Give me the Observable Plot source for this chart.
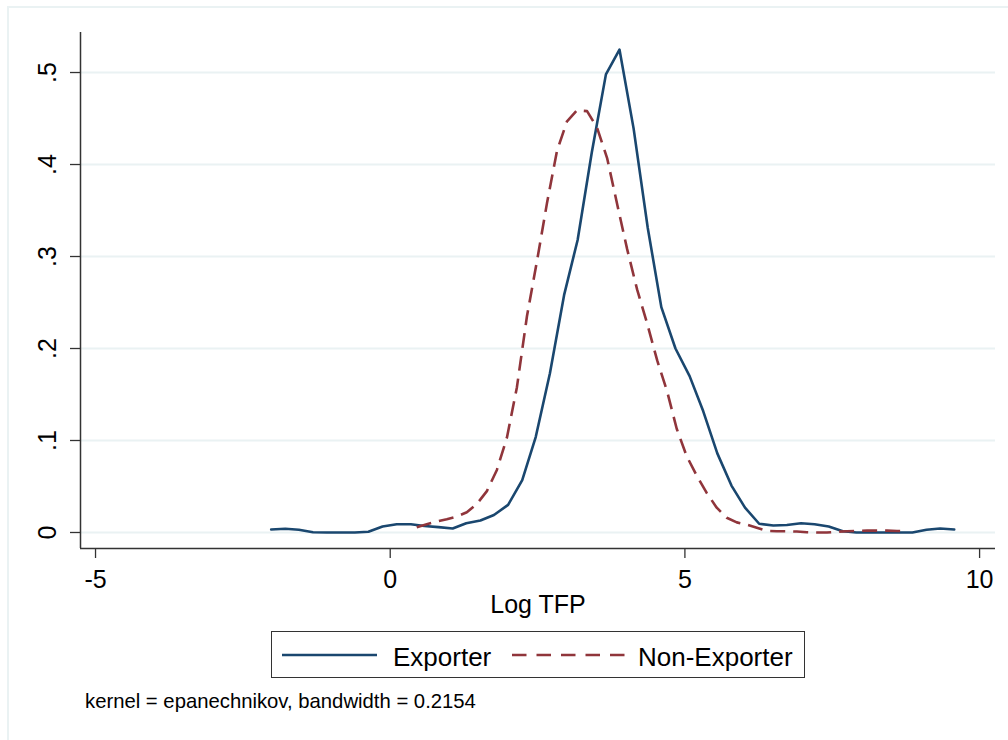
<!DOCTYPE html>
<html>
<head>
<meta charset="utf-8">
<script src="https://cdn.jsdelivr.net/npm/d3@7"></script>
<script src="https://cdn.jsdelivr.net/npm/@observablehq/plot@0.6"></script>
<style>
  body { margin: 0; background: #fff; font-family: "Liberation Sans", Arial, sans-serif; }
  #wrap { position: relative; width: 1008px; height: 740px; overflow: hidden; background: #fff; }
  #frame { position: absolute; left: 7px; top: 6px; width: 1020px; height: 760px;
           border-top: 2px solid #eaf2f3; border-left: 2px solid #eaf2f3; }
  #chart { position: absolute; left: 0; top: 0; }
  #legend { position: absolute; left: 271px; top: 631px; width: 532px; height: 45px;
            border: 1px solid #333; box-sizing: content-box; }
  .lg-text { position: absolute; font-size: 26px; line-height: 26px; color: #000; white-space: nowrap; }
  #caption { position: absolute; left: 85px; top: 691px; font-size: 20.3px; line-height: 20px; color: #000; white-space: nowrap; }
  svg.sample { position: absolute; overflow: visible; }
</style>
</head>
<body>
<div id="wrap">
  <div id="frame"></div>
  <div id="chart"></div>
  <div id="legend"></div>
  <div id="caption"></div>
</div>
<script>
// ---- Data ----
const exporterX = [-2.02, -1.78, -1.55, -1.31, -1.07, -0.84, -0.60, -0.37, -0.13, 0.11,
                   0.35, 0.58, 0.82, 1.06, 1.29, 1.53, 1.76, 2.00, 2.24, 2.47,
                   2.71, 2.95, 3.18, 3.42, 3.66, 3.89, 4.13, 4.37, 4.60, 4.84,
                   5.08, 5.31, 5.55, 5.79, 6.02, 6.26, 6.50, 6.73, 6.97, 7.20,
                   7.44, 7.68, 7.91, 8.15, 8.39, 8.62, 8.86, 9.10, 9.33, 9.57];
const exporterY = [0.0033, 0.0040, 0.0030, 0.0003, 0.0000, 0.0000, 0.0000, 0.0008, 0.0065, 0.0090,
                   0.0090, 0.0070, 0.0058, 0.0043, 0.0100, 0.0130, 0.0190, 0.0300, 0.0570, 0.1040,
                   0.1730, 0.2580, 0.3180, 0.4130, 0.4980, 0.5250, 0.4390, 0.3310, 0.2450, 0.2000,
                   0.1700, 0.1320, 0.0860, 0.0510, 0.0270, 0.0095, 0.0076, 0.0082, 0.0101, 0.0090,
                   0.0065, 0.0014, 0.0000, 0.0000, 0.0000, 0.0000, 0.0000, 0.0030, 0.0043, 0.0033];

const nonExporterX = [0.45, 0.62, 0.79, 0.96, 1.13, 1.30, 1.47, 1.64, 1.81, 1.98,
                      2.15, 2.32, 2.49, 2.66, 2.83, 3.00, 3.17, 3.34, 3.51, 3.68,
                      3.85, 4.02, 4.19, 4.36, 4.53, 4.70, 4.86, 5.03, 5.20, 5.37,
                      5.54, 5.71, 5.88, 6.05, 6.22, 6.39, 6.56, 6.73, 6.90, 7.07,
                      7.24, 7.41, 7.58, 7.75, 7.92, 8.09, 8.26, 8.43, 8.60, 8.77];
const nonExporterY = [0.0058, 0.0090, 0.0120, 0.0145, 0.0174, 0.0220, 0.0310, 0.0450, 0.0680, 0.1030,
                      0.1580, 0.2350, 0.2950, 0.3580, 0.4150, 0.4470, 0.4590, 0.4580, 0.4400, 0.4070,
                      0.3570, 0.3080, 0.2640, 0.2270, 0.1870, 0.1530, 0.1130, 0.0830, 0.0620, 0.0430,
                      0.0270, 0.0160, 0.0110, 0.0085, 0.0052, 0.0018, 0.0014, 0.0014, 0.0010, 0.0003,
                      0.0000, 0.0000, 0.0008, 0.0014, 0.0018, 0.0020, 0.0020, 0.0020, 0.0017, 0.0014];

const xTicks = [-5, 0, 5, 10];
const xTickLabels = ["-5", "0", "5", "10"];
const yTicks = [0, 0.1, 0.2, 0.3, 0.4, 0.5];
const yTickLabels = ["0", ".1", ".2", ".3", ".4", ".5"];
const xTitle = "Log TFP";
const seriesNames = ["Exporter", "Non-Exporter"];
const captionText = "kernel = epanechnikov, bandwidth = 0.2154";

// ---- Styles ----
const navy = "#1a476f";
const maroon = "#90353b";
const gridColor = "#eaf2f3";
const axisColor = "#333333";
const font = "'Liberation Sans', Arial, sans-serif";
const xDomain = [-5.255, 10.27];
const yDomain = [-0.0174, 0.5435];

const exporter = exporterX.map((x, i) => ({x, y: exporterY[i]}));
const nonExporter = nonExporterX.map((x, i) => ({x, y: nonExporterY[i]}));
const xLab = new Map(xTicks.map((t, i) => [t, xTickLabels[i]]));
const yLab = new Map(yTicks.map((t, i) => [t, yTickLabels[i]]));

const chart = Plot.plot({
  width: 1008,
  height: 620,
  marginLeft: 80,
  marginRight: 13,
  marginTop: 32,
  marginBottom: 72,
  style: {fontFamily: font, fontSize: "25px", color: "#000", background: "transparent", overflow: "visible"},
  x: {domain: xDomain},
  y: {domain: yDomain},
  marks: [
    Plot.gridY(yTicks, {stroke: gridColor, strokeOpacity: 1, strokeWidth: 2}),
    Plot.ruleX([xDomain[0]], {stroke: axisColor, strokeWidth: 1.5}),
    Plot.ruleY([yDomain[0]], {stroke: axisColor, strokeWidth: 1.5}),
    Plot.axisX(xTicks, {tickFormat: d => xLab.get(d), tickSize: 10, tickPadding: 12,
                        stroke: axisColor, strokeWidth: 1.3, fontSize: 25, label: null}),
    Plot.axisY(yTicks, {tickFormat: d => yLab.get(d), tickSize: 10, tickPadding: 15, tickRotate: -90,
                        stroke: axisColor, strokeWidth: 1.3, fontSize: 25, label: null}),
    Plot.text([xTitle], {frameAnchor: "bottom", text: d => d, lineAnchor: "bottom", dy: 64, fontSize: 25, fill: "#000"}),
    Plot.line(exporter, {x: "x", y: "y", stroke: navy, strokeWidth: 2.6}),
    Plot.line(nonExporter, {x: "x", y: "y", stroke: maroon, strokeWidth: 2.6,
                            strokeDasharray: "15,8", strokeLinecap: "butt"})
  ]
});
document.getElementById("chart").appendChild(chart);

// ---- Legend ----
const legend = document.getElementById("legend");
function addSample(left, color, dash) {
  const ns = "http://www.w3.org/2000/svg";
  const s = document.createElementNS(ns, "svg");
  s.setAttribute("class", "sample");
  s.setAttribute("width", "120");
  s.setAttribute("height", "10");
  s.style.left = left + "px";
  s.style.top = "18px";
  const l = document.createElementNS(ns, "line");
  l.setAttribute("x1", 0); l.setAttribute("x2", dash ? 113 : 95);
  l.setAttribute("y1", 5); l.setAttribute("y2", 5);
  l.setAttribute("stroke", color);
  l.setAttribute("stroke-width", 2.6);
  if (dash) l.setAttribute("stroke-dasharray", dash);
  s.appendChild(l);
  legend.appendChild(s);
}
function addText(left, txt) {
  const d = document.createElement("div");
  d.className = "lg-text";
  d.style.left = left + "px";
  d.style.top = "12px";
  d.textContent = txt;
  legend.appendChild(d);
}
addSample(10, navy, null);
addText(121, seriesNames[0]);
addSample(240, maroon, "14.5,10");
addText(366, seriesNames[1]);

document.getElementById("caption").textContent = captionText;
</script>
</body>
</html>
